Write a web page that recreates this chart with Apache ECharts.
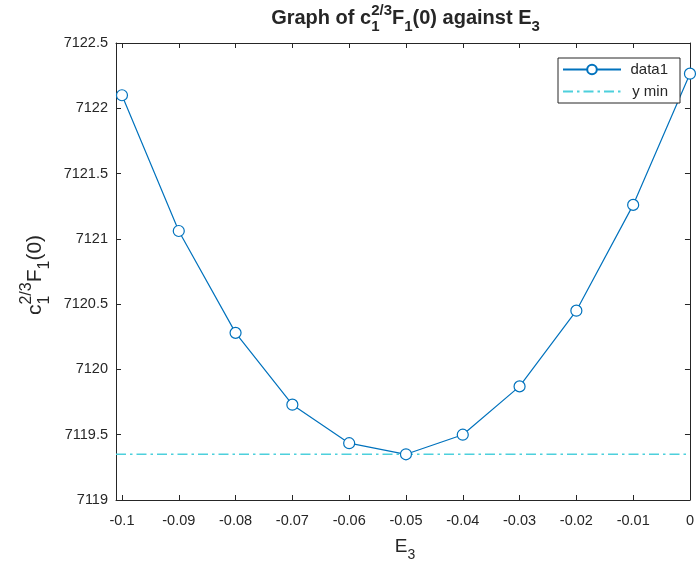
<!DOCTYPE html>
<html>
<head>
<meta charset="utf-8">
<script src="https://cdn.jsdelivr.net/npm/echarts@6/dist/echarts.min.js"></script>
<style>
html,body{margin:0;padding:0;background:#fff;}
#chart{width:697px;height:568px;}
</style>
</head>
<body>
<div id="chart"></div>
<script>
// ---- data ----
const xValues = [-0.1, -0.09, -0.08, -0.07, -0.06, -0.05, -0.04, -0.03, -0.02, -0.01, 0];
const yValues = [7122.10, 7121.06, 7120.28, 7119.73, 7119.435, 7119.35, 7119.50, 7119.87, 7120.45, 7121.26, 7122.265];
const yMinValue = 7119.35;
const xTicks = [-0.1, -0.09, -0.08, -0.07, -0.06, -0.05, -0.04, -0.03, -0.02, -0.01, 0];
const xTickLabels = ['-0.1', '-0.09', '-0.08', '-0.07', '-0.06', '-0.05', '-0.04', '-0.03', '-0.02', '-0.01', '0'];
const yTicks = [7119, 7119.5, 7120, 7120.5, 7121, 7121.5, 7122, 7122.5];
const yTickLabels = ['7119', '7119.5', '7120', '7120.5', '7121', '7121.5', '7122', '7122.5'];
const seriesNames = ['data1', 'y min'];
const xLimits = [-0.10105, 0];
const yLimits = [7119, 7122.5];

const FONT = '"Liberation Sans", Arial, Helvetica, sans-serif';
const AXIS_COLOR = '#262626';
const LINE_COLOR = '#0072BD';
const YMIN_COLOR = '#4dd0dc';
const YMIN_DASH = [10, 4, 2.5, 4];

const canvas = document.createElement('canvas');
const ctx = canvas.getContext('2d');
function measure(t, size, weight) {
  ctx.font = weight + ' ' + size + 'px ' + FONT;
  return ctx.measureText(t).width;
}

// Build math-like text (sub/superscripts) as graphic text pieces, centered at 0
function mathPieces(parts, size, weight, subSize, subDy, supDy) {
  const items = [];
  let x = 0;
  parts.forEach(p => {
    if (typeof p === 'string') {
      items.push({t: p, x: x, dy: 0, s: size});
      x += measure(p, size, weight);
    } else {
      let w = 0;
      if (p.sub) { items.push({t: p.sub, x: x, dy: subDy, s: subSize}); w = Math.max(w, measure(p.sub, subSize, weight)); }
      if (p.sup) { items.push({t: p.sup, x: x, dy: supDy, s: subSize}); w = Math.max(w, measure(p.sup, subSize, weight)); }
      x += w;
    }
  });
  const total = x;
  return items.map(it => ({
    type: 'text',
    x: it.x - total / 2,
    y: it.dy,
    style: {
      text: it.t,
      font: weight + ' ' + it.s + 'px ' + FONT,
      fill: AXIS_COLOR,
      textAlign: 'left',
      textVerticalAlign: 'middle',
      verticalAlign: 'middle'
    }
  }));
}

const titleParts = ['Graph of c', {sub: '1', sup: '2/3'}, 'F', {sub: '1'}, '(0) against E', {sub: '3'}];
const yNameParts = ['c', {sub: '1', sup: '2/3'}, 'F', {sub: '1'}, '(0)'];
const xNameParts = ['E', {sub: '3'}];

const chart = echarts.init(document.getElementById('chart'), null, {renderer: 'canvas'});

const option = {
  animation: false,
  backgroundColor: '#ffffff',
  grid: {left: 116, top: 43, width: 577, height: 457, containLabel: false},
  legend: {
    data: [
      {name: seriesNames[0]},
      {name: seriesNames[1], itemStyle: {opacity: 0}}
    ],
    orient: 'vertical',
    left: 558,
    top: 58,
    padding: [4, 12, 4, 4],
    itemGap: 7,
    itemWidth: 58,
    itemHeight: 12,
    backgroundColor: '#ffffff',
    borderColor: AXIS_COLOR,
    borderWidth: 1,
    borderRadius: 0,
    formatter: name => '{r|' + name + '}',
    textStyle: {
      fontFamily: FONT, fontSize: 15, color: AXIS_COLOR,
      rich: {r: {fontFamily: FONT, fontSize: 15, color: AXIS_COLOR, width: 42, align: 'right'}}
    }
  },
  xAxis: [{
    type: 'value',
    min: xLimits[0],
    max: xLimits[1],
    position: 'bottom',
    axisLine: {show: true, onZero: false, lineStyle: {color: AXIS_COLOR, width: 1}},
    axisTick: {show: true, inside: true, length: 5, customValues: xTicks, lineStyle: {color: AXIS_COLOR}},
    axisLabel: {
      customValues: xTicks,
      margin: 13,
      fontFamily: FONT, fontSize: 14.5, color: AXIS_COLOR,
      formatter: v => { const i = xTicks.findIndex(t => Math.abs(t - v) < 1e-9); return i >= 0 ? xTickLabels[i] : ''; }
    },
    splitLine: {show: false}
  }, {
    type: 'value',
    min: xLimits[0],
    max: xLimits[1],
    position: 'top',
    axisLine: {show: true, onZero: false, lineStyle: {color: AXIS_COLOR, width: 1}},
    axisTick: {show: true, inside: true, length: 5, customValues: xTicks, lineStyle: {color: AXIS_COLOR}},
    axisLabel: {show: false},
    splitLine: {show: false}
  }],
  yAxis: [{
    type: 'value',
    min: yLimits[0],
    max: yLimits[1],
    interval: 0.5,
    position: 'left',
    axisLine: {show: true, onZero: false, lineStyle: {color: AXIS_COLOR, width: 1}},
    axisTick: {show: true, inside: true, length: 5, lineStyle: {color: AXIS_COLOR}},
    axisLabel: {
      margin: 8,
      fontFamily: FONT, fontSize: 14.5, color: AXIS_COLOR,
      formatter: v => { const i = yTicks.findIndex(t => Math.abs(t - v) < 1e-9); return i >= 0 ? yTickLabels[i] : ''; }
    },
    splitLine: {show: false}
  }, {
    type: 'value',
    min: yLimits[0],
    max: yLimits[1],
    interval: 0.5,
    position: 'right',
    axisLine: {show: true, onZero: false, lineStyle: {color: AXIS_COLOR, width: 1}},
    axisTick: {show: true, inside: true, length: 5, lineStyle: {color: AXIS_COLOR}},
    axisLabel: {show: false},
    splitLine: {show: false}
  }],
  series: [{
    name: seriesNames[0],
    type: 'line',
    data: xValues.map((x, i) => [x, yValues[i]]),
    symbol: 'circle',
    symbolSize: 11,
    showAllSymbol: true,
    itemStyle: {color: '#ffffff', borderColor: LINE_COLOR, borderWidth: 1.2},
    lineStyle: {color: LINE_COLOR, width: 1.2},
    emphasis: {disabled: true},
    z: 3
  }, {
    name: seriesNames[1],
    type: 'line',
    data: [[xLimits[0], yMinValue], [xLimits[1], yMinValue]],
    symbol: 'none',
    itemStyle: {color: YMIN_COLOR},
    lineStyle: {color: YMIN_COLOR, width: 1.5, type: YMIN_DASH},
    emphasis: {disabled: true},
    z: 2
  }],
  graphic: [{
    type: 'group', x: 405.5, y: 18,
    children: mathPieces(titleParts, 20, 'bold', 15, 9, -7)
  }, {
    type: 'group', x: 35, y: 275, rotation: Math.PI / 2,
    children: mathPieces(yNameParts, 21, 'normal', 16, 10, -8)
  }, {
    type: 'group', x: 405, y: 547,
    children: mathPieces(xNameParts, 19, 'normal', 14, 8, -7)
  }]
};
chart.setOption(option);
</script>
</body>
</html>
